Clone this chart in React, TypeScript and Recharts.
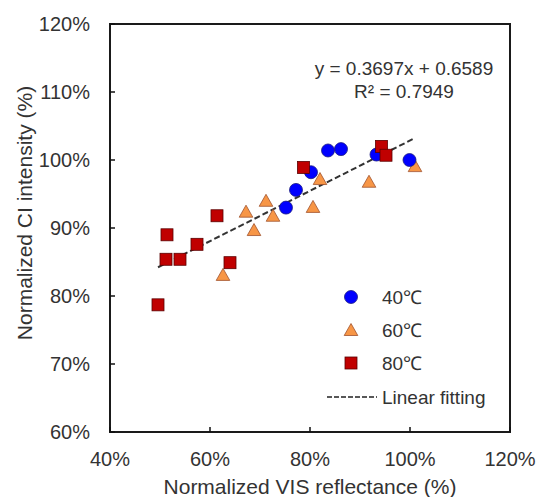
import React from 'react';
import {
  ScatterChart, Scatter, XAxis, YAxis, ReferenceArea, ReferenceLine, Legend, Customized,
} from 'recharts';

// 40 °C
const blueX = [75.2, 77.2, 80.2, 83.6, 86.2, 93.3, 99.9];
const blueY = [93.0, 95.6, 98.2, 101.4, 101.6, 100.8, 100.0];
// 60 °C
const orangeX = [62.6, 67.2, 68.8, 71.2, 72.6, 80.6, 82.0, 91.8, 101.0];
const orangeY = [83.1, 92.4, 89.7, 94.0, 91.8, 93.1, 97.2, 96.8, 99.1];
// 80 °C
const redX = [49.6, 51.4, 51.2, 54.0, 57.4, 61.4, 64.0, 78.7, 94.3, 95.2];
const redY = [78.7, 89.0, 85.4, 85.4, 87.6, 91.8, 84.9, 98.9, 102.0, 100.7];

const xTicks = [40, 60, 80, 100, 120];
const yTicks = [60, 70, 80, 90, 100, 110, 120];
const fitSlope = 0.3697;
const fitIntercept = 0.6589;
const fitR2 = 0.7949;
const fitRange = [49.6, 101.0];
const seriesNames = ['40℃', '60℃', '80℃', 'Linear fitting'];

const toPts = (xs: number[], ys: number[]) => xs.map((x, i) => ({ x, y: ys[i] }));
const blueData = toPts(blueX, blueY);
const orangeData = toPts(orangeX, orangeY);
const redData = toPts(redX, redY);
const fitY = (x: number) => (fitSlope * (x / 100) + fitIntercept) * 100;

const FONT = '"Liberation Sans", Arial, sans-serif';
const TXT = '#333333';

const BLUE = '#0000FF';
const BLUE_S = '#1a1a80';
const ORANGE = '#F79646';
const ORANGE_S = '#A0522D';
const RED = '#C00000';
const RED_S = '#5a0000';

const Circle = (p: any) => <circle cx={p.cx} cy={p.cy} r={6.5} fill={BLUE} stroke={BLUE_S} strokeWidth={0.8} />;
const Tri = (p: any) => (
  <polygon
    points={`${p.cx},${p.cy - 6.5} ${p.cx + 6.8},${p.cy + 5.5} ${p.cx - 6.8},${p.cy + 5.5}`}
    fill={ORANGE} stroke={ORANGE_S} strokeWidth={0.8}
  />
);
const Sq = (p: any) => <rect x={p.cx - 6} y={p.cy - 6} width={12} height={12} fill={RED} stroke={RED_S} strokeWidth={0.8} />;

const LegendBox = () => (
  <svg width={190} height={130} style={{ overflow: 'visible' }}>
    <g fontFamily={FONT} fontSize={19} fill={TXT}>
      <Circle cx={31} cy={17} />
      <text x={62} y={17} dominantBaseline="central">{seriesNames[0]}</text>
      <Tri cx={31} cy={50} />
      <text x={62} y={50} dominantBaseline="central">{seriesNames[1]}</text>
      <Sq cx={31} cy={83} />
      <text x={62} y={83} dominantBaseline="central">{seriesNames[2]}</text>
      <line x1={7} x2={57} y1={117} y2={117} stroke="#222" strokeWidth={1.5} strokeDasharray="5 2" />
      <text x={62} y={117} dominantBaseline="central">{seriesNames[3]}</text>
    </g>
  </svg>
);

const Equation = () => (
  <g fontFamily={FONT} fontSize={19} fill={TXT} textAnchor="middle">
    <text x={404} y={68} dominantBaseline="central">{`y = ${fitSlope}x + ${fitIntercept}`}</text>
    <text x={404} y={91} dominantBaseline="central">{`R² = ${fitR2}`}</text>
  </g>
);

const YTitle = () => (
  <text x={24} y={213} transform="rotate(-90 24 213)" textAnchor="middle" dominantBaseline="central"
    fontFamily={FONT} fontSize={21} fill={TXT}>Normalized CI intensity (%)</text>
);
const XTitle = () => (
  <text x={310} y={486} textAnchor="middle" dominantBaseline="central"
    fontFamily={FONT} fontSize={21} fill={TXT}>Normalized VIS reflectance (%)</text>
);

export default function App() {
  return (
    <div style={{ position: 'absolute', left: 0, top: 0, width: 537, height: 497, background: '#fff' }}>
      <ScatterChart width={537} height={497} margin={{ top: 24, right: 27, bottom: 0, left: 0 }}>
        <XAxis
          type="number" dataKey="x" domain={[40, 120]} ticks={xTicks} allowDataOverflow
          tickFormatter={(v: number) => `${v}%`} height={65}
          axisLine={false} tickSize={-5} tickMargin={25}
          tickLine={{ stroke: '#111', strokeWidth: 1.5 }}
          tick={{ fill: TXT, fontSize: 20, fontFamily: FONT }}
        />
        <YAxis
          type="number" dataKey="y" domain={[60, 120]} ticks={yTicks} allowDataOverflow
          tickFormatter={(v: number) => `${v}%`} width={110}
          axisLine={false} tickSize={-5} tickMargin={25}
          tickLine={{ stroke: '#111', strokeWidth: 1.5 }}
          tick={{ fill: TXT, fontSize: 20, fontFamily: FONT }}
        />
        <ReferenceArea x1={40} x2={120} y1={60} y2={120} fill="none" stroke="#1a1a1a" strokeWidth={2} fillOpacity={0} />
        <ReferenceLine
          segment={[{ x: fitRange[0], y: fitY(fitRange[0]) }, { x: fitRange[1], y: fitY(fitRange[1]) }]}
          stroke="#333" strokeWidth={2} strokeDasharray="6 3"
        />
        <Scatter name={seriesNames[1]} data={orangeData} shape={Tri} isAnimationActive={false} />
        <Scatter name={seriesNames[0]} data={blueData} shape={Circle} isAnimationActive={false} />
        <Scatter name={seriesNames[2]} data={redData} shape={Sq} isAnimationActive={false} />
        <Legend layout="vertical" align="center" verticalAlign="middle" content={LegendBox}
          wrapperStyle={{ left: 320, top: 280, width: 190, height: 130 }} />
        <Customized component={Equation} />
        <Customized component={YTitle} />
        <Customized component={XTitle} />
      </ScatterChart>
    </div>
  );
}
